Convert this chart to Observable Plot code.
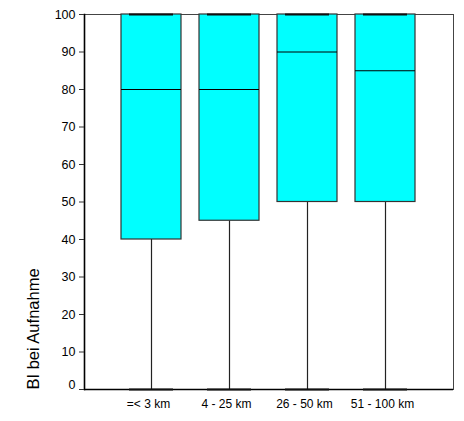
<!DOCTYPE html>
<html>
<head>
<meta charset="utf-8">
<script src="https://cdn.jsdelivr.net/npm/d3@7"></script>
<script src="https://cdn.jsdelivr.net/npm/@observablehq/plot@0.6"></script>
<style>
  html, body { margin: 0; padding: 0; background: #fff; }
</style>
</head>
<body>
<div id="chart"></div>
<script>
const categories = ["=< 3 km", "4 - 25 km", "26 - 50 km", "51 - 100 km"];
const minValues = [0, 0, 0, 0];
const q1Values = [40, 45, 50, 50];
const medianValues = [80, 80, 90, 85];
const q3Values = [100, 100, 100, 100];
const maxValues = [100, 100, 100, 100];
const yTicks = [0, 10, 20, 30, 40, 50, 60, 70, 80, 90, 100];
const yLabel = "BI bei Aufnahme";

const rows = categories.map((c, i) => ({
  cat: c, min: minValues[i], q1: q1Values[i], median: medianValues[i], q3: q3Values[i], max: maxValues[i]
}));

const chart = Plot.plot({
  width: 464,
  height: 421,
  marginTop: 14,
  marginBottom: 32,
  marginLeft: 84,
  marginRight: 11,
  style: { fontFamily: "'Liberation Sans', Arial, sans-serif", background: "#fff", color: "#000" },
  x: { domain: categories, paddingInner: 0.226, paddingOuter: 0.47, label: null },
  y: { domain: [0, 100], label: null },
  marks: [
    Plot.frame({ stroke: "#444", strokeWidth: 1 }),
    Plot.ruleX(rows, { x: "cat", y1: "min", y2: "q1", stroke: "#222", strokeWidth: 1.2 }),
    Plot.ruleX(rows, { x: "cat", y1: "q3", y2: "max", stroke: "#222", strokeWidth: 1.2 }),
    Plot.barY(rows, { x: "cat", y1: "q1", y2: "q3", fill: "#00ffff", stroke: "#333", strokeWidth: 1.2 }),
    Plot.tickY(rows, { x: "cat", y: "median", stroke: "#000", strokeWidth: 1 }),
    Plot.ruleY([0], { stroke: "#000", strokeWidth: 1.6 }),
    Plot.frame({ anchor: "left", stroke: "#000", strokeWidth: 1.6 }),
    Plot.tickY(rows, { x: "cat", y: "min", stroke: "#111", strokeWidth: 2.2, inset: 8 }),
    Plot.tickY(rows, { x: "cat", y: "max", stroke: "#111", strokeWidth: 2.2, inset: 8 }),
    Plot.axisY({ ticks: yTicks, tickSize: 5, text: null, stroke: "#333" }),
    Plot.axisY({ ticks: yTicks.filter(d => d !== 0), tickSize: 0, tickPadding: 9, fontSize: 12.5, fill: "#000" }),
    Plot.axisY({ ticks: yTicks.filter(d => d === 0), tickSize: 0, tickPadding: 9, fontSize: 12.5, fill: "#000", dy: -5 }),
    Plot.axisX({ tickSize: 0, tickPadding: 10, fontSize: 12, dx: -3, fill: "#000" }),
    Plot.text([yLabel], { frameAnchor: "bottom-left", rotate: -90, textAnchor: "start", lineAnchor: "middle", dx: -51, fontSize: 16.5, fill: "#000" })
  ]
});
document.getElementById("chart").appendChild(chart);
</script>
</body>
</html>
